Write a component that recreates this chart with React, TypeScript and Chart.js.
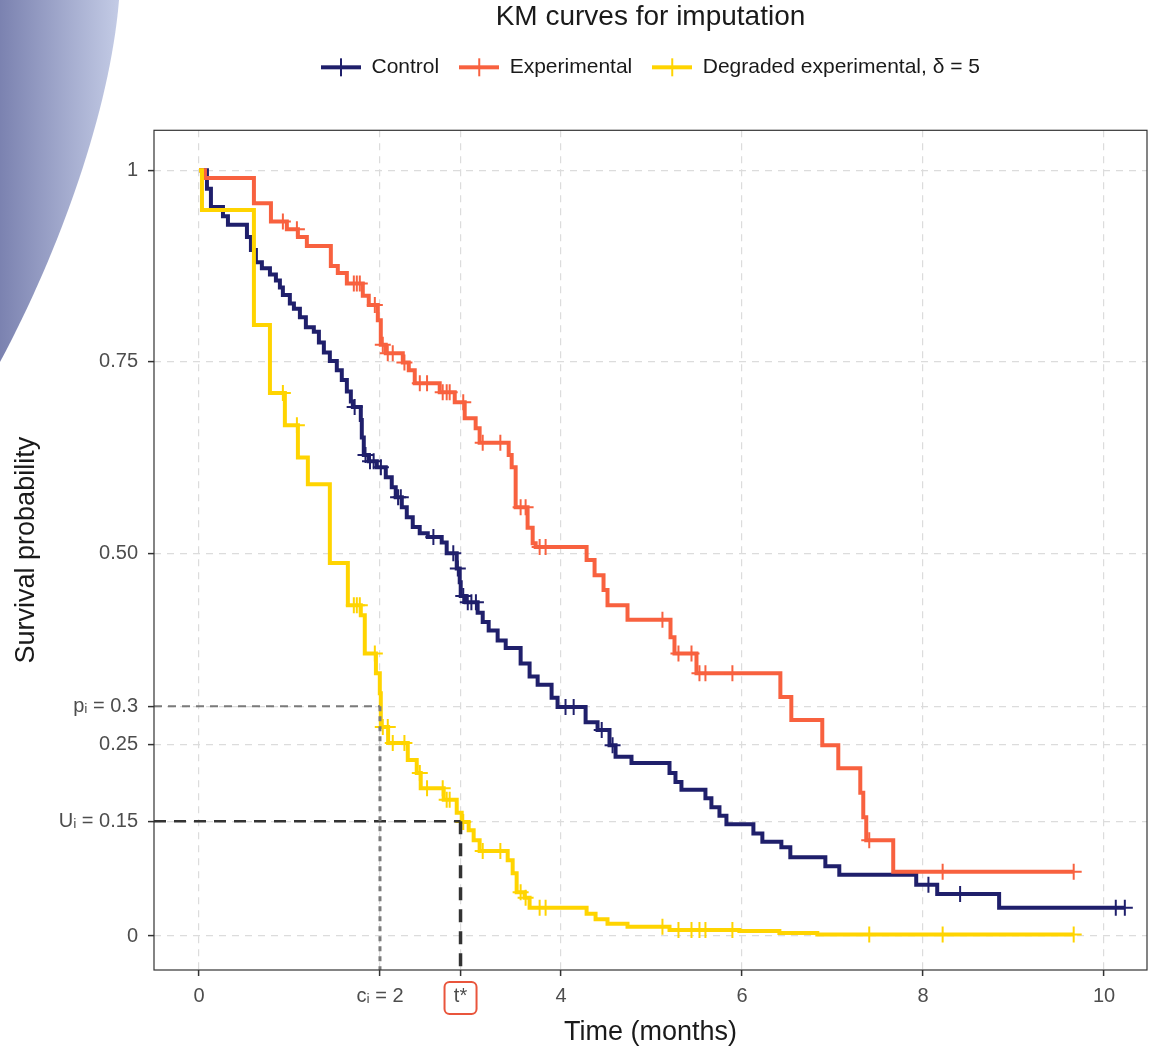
import React, { useEffect, useRef } from 'react';
import { Chart, registerables } from 'chart.js';

Chart.register(...registerables);

const FONT = "'Liberation Sans', Arial, Helvetica, sans-serif";

const chartTitle = 'KM curves for imputation';
const xAxisTitle = 'Time (months)';
const yAxisTitle = 'Survival probability';
const seriesNames = ['Control', 'Experimental', 'Degraded experimental, δ = 5'];
const seriesColors = ['#1f1f6b', '#f8613f', '#ffd400'];

const cI = 2;
const tStar = 2.89;
const pI = 0.3;
const uI = 0.15;

const xTickValues = [0, cI, tStar, 4, 6, 8, 10];
const xTickLabels = ['0', 'cᵢ = 2', 't*', '4', '6', '8', '10'];
const yTickValues = [0, uI, 0.25, pI, 0.5, 0.75, 1];
const yTickLabels = ['0', 'Uᵢ = 0.15', '0.25', 'pᵢ = 0.3', '0.50', '0.75', '1'];

const xMin = -0.497;
const xMax = 10.475;
const yMin = -0.0444;
const yMax = 1.0522;

// [time, survival after event]
const controlSteps = [
  [0.088, 0.976], [0.132, 0.952], [0.265, 0.940], [0.320, 0.929], [0.530, 0.913], [0.574, 0.896],
  [0.629, 0.880], [0.695, 0.872], [0.784, 0.864], [0.850, 0.856], [0.894, 0.847], [0.927, 0.837],
  [1.004, 0.826], [1.049, 0.819], [1.115, 0.808], [1.181, 0.795], [1.269, 0.789], [1.325, 0.775],
  [1.380, 0.762], [1.446, 0.751], [1.523, 0.739], [1.578, 0.726], [1.634, 0.711], [1.678, 0.698],
  [1.700, 0.691], [1.788, 0.674], [1.799, 0.651], [1.821, 0.628], [1.876, 0.620], [1.965, 0.612],
  [2.064, 0.599], [2.130, 0.586], [2.174, 0.573], [2.241, 0.560], [2.296, 0.547], [2.362, 0.534],
  [2.439, 0.526], [2.528, 0.521], [2.682, 0.514], [2.737, 0.500], [2.848, 0.480], [2.881, 0.462],
  [2.892, 0.444], [2.947, 0.436], [3.079, 0.422], [3.135, 0.410], [3.201, 0.399], [3.300, 0.386],
  [3.389, 0.376], [3.554, 0.356], [3.653, 0.339], [3.742, 0.328], [3.896, 0.311], [3.962, 0.299],
  [4.272, 0.279], [4.404, 0.269], [4.536, 0.249], [4.603, 0.234], [4.779, 0.226], [5.199, 0.213],
  [5.265, 0.201], [5.331, 0.191], [5.596, 0.180], [5.662, 0.168], [5.751, 0.157], [5.828, 0.146],
  [6.126, 0.134], [6.225, 0.123], [6.435, 0.116], [6.534, 0.103], [6.921, 0.091], [7.075, 0.080],
  [7.925, 0.067], [8.157, 0.055], [8.841, 0.037],
];
const controlCensorTimes = [
  1.72, 1.84, 1.89, 1.93, 2.01, 2.20, 2.23, 2.59, 2.81, 2.86, 2.92, 2.97, 3.01, 3.06,
  4.05, 4.14, 4.45, 4.57, 8.06, 8.41, 10.13, 10.23,
];
const controlEnd = 10.23;

const experimentalSteps = [
  [0.066, 0.990], [0.607, 0.957], [0.795, 0.933], [0.971, 0.923], [1.093, 0.913], [1.192, 0.901],
  [1.457, 0.875], [1.534, 0.866], [1.634, 0.852], [1.810, 0.836], [1.876, 0.824], [1.976, 0.804],
  [2.009, 0.772], [2.064, 0.761], [2.252, 0.749], [2.318, 0.739], [2.384, 0.722], [2.660, 0.710],
  [2.826, 0.697], [2.936, 0.676], [3.057, 0.663], [3.101, 0.644], [3.422, 0.628], [3.455, 0.612],
  [3.499, 0.560], [3.631, 0.533], [3.687, 0.513], [3.720, 0.508], [4.283, 0.491], [4.371, 0.471],
  [4.470, 0.452], [4.514, 0.432], [4.735, 0.413], [5.210, 0.390], [5.254, 0.369], [5.497, 0.343],
  [6.424, 0.312], [6.545, 0.282], [6.887, 0.249], [7.064, 0.219], [7.307, 0.187], [7.340, 0.155],
  [7.373, 0.125], [7.671, 0.084],
];
const degradedSteps = [
  [0.033, 0.948], [0.607, 0.798], [0.784, 0.709], [0.949, 0.667], [1.093, 0.625], [1.203, 0.590],
  [1.446, 0.487], [1.645, 0.432], [1.788, 0.419], [1.832, 0.369], [1.955, 0.343], [1.998, 0.317],
  [2.009, 0.273], [2.090, 0.252], [2.307, 0.230], [2.406, 0.213], [2.450, 0.193], [2.704, 0.178],
  [2.848, 0.161], [2.903, 0.149], [2.980, 0.138], [3.035, 0.125], [3.101, 0.111], [3.411, 0.099],
  [3.466, 0.082], [3.510, 0.057], [3.598, 0.050], [3.653, 0.037], [4.283, 0.029], [4.382, 0.022],
  [4.514, 0.016], [4.735, 0.012], [5.199, 0.008], [5.971, 0.0065], [6.413, 0.004], [6.832, 0.002],
];
// censoring times shared by the experimental arm and its degraded version
const experimentalCensorTimes = [
  0.927, 1.082, 1.711, 1.744, 1.777, 1.943, 2.031, 2.086, 2.141, 2.27, 2.44, 2.52, 2.693, 2.737,
  2.770, 2.92, 3.135, 3.33, 3.554, 3.609, 3.764, 3.830, 5.121, 5.298, 5.442, 5.530, 5.596, 5.894,
  7.406, 8.217, 9.665,
];
const experimentalEnd = 9.665;

function survAt(steps: number[][], t: number) {
  let s = 1;
  for (const [time, surv] of steps) {
    if (time <= t) s = surv;
  }
  return s;
}

function stepData(steps: number[][], end: number) {
  const pts = [{ x: 0, y: 1 }];
  for (const [t, s] of steps) pts.push({ x: t, y: s });
  pts.push({ x: end, y: steps[steps.length - 1][1] });
  return pts;
}

function censorData(steps: number[][], times: number[]) {
  return times.map((t) => ({ x: t, y: survAt(steps, t) }));
}

function makeKey(color: string) {
  const c = document.createElement('canvas');
  c.width = 40;
  c.height = 20;
  const g = c.getContext('2d')!;
  g.strokeStyle = color;
  g.lineWidth = 4;
  g.beginPath();
  g.moveTo(0, 10);
  g.lineTo(40, 10);
  g.stroke();
  g.lineWidth = 2;
  g.beginPath();
  g.moveTo(20, 1);
  g.lineTo(20, 19);
  g.stroke();
  return c;
}

const decorPlugin = {
  id: 'decor',
  beforeDraw(chart: any) {
    const ctx = chart.ctx;
    ctx.save();
    const grad = ctx.createLinearGradient(0, 0, 120, 0);
    grad.addColorStop(0, '#7b82b0');
    grad.addColorStop(1, '#c4cce6');
    ctx.fillStyle = grad;
    ctx.beginPath();
    ctx.moveTo(0, 0);
    ctx.lineTo(119, 0);
    ctx.bezierCurveTo(110, 110, 60, 250, 0, 362);
    ctx.closePath();
    ctx.fill();
    ctx.restore();
  },
  afterDraw(chart: any) {
    const { ctx, chartArea } = chart;
    ctx.save();
    ctx.strokeStyle = '#333333';
    ctx.lineWidth = 1.2;
    ctx.strokeRect(chartArea.left, chartArea.top, chartArea.right - chartArea.left, chartArea.bottom - chartArea.top);
    const xs = chart.scales.x;
    const px = xs.getPixelForValue(tStar);
    ctx.strokeStyle = '#e9553c';
    ctx.lineWidth = 2;
    ctx.beginPath();
    ctx.roundRect(px - 16, xs.top + 12, 32, 32, 5);
    ctx.stroke();
    ctx.restore();
  },
};

export default function App() {
  const ref = useRef<HTMLCanvasElement>(null);

  useEffect(() => {
    const keys = seriesColors.map((c) => makeKey(c));
    const lineDs = (i: number, steps: number[][], end: number, order: number) => ({
      type: 'line',
      label: seriesNames[i],
      data: stepData(steps, end),
      borderColor: seriesColors[i],
      backgroundColor: seriesColors[i],
      borderWidth: 4,
      stepped: 'before',
      pointRadius: 0,
      fill: false,
      borderJoinStyle: 'miter',
      xAxisID: 'x',
      yAxisID: 'y',
      order,
    });
    const censorDs = (i: number, steps: number[][], times: number[], order: number) => ({
      type: 'scatter',
      label: seriesNames[i] + ' (censored)',
      data: censorData(steps, times),
      showLine: false,
      pointStyle: 'cross',
      pointRadius: 8,
      pointBorderWidth: 2,
      pointBorderColor: seriesColors[i],
      pointBackgroundColor: seriesColors[i],
      xAxisID: 'x',
      yAxisID: 'y',
      order,
    });
    const refDs = (data: any[], color: string, width: number, dash: number[]) => ({
      type: 'line',
      label: 'ref',
      data,
      borderColor: color,
      borderWidth: width,
      borderDash: dash,
      pointRadius: 0,
      fill: false,
      xAxisID: 'x',
      yAxisID: 'y',
      order: 1,
    });

    const chart = new Chart(ref.current!, {
      type: 'line',
      data: {
        datasets: [
          lineDs(0, controlSteps, controlEnd, 10),
          lineDs(1, experimentalSteps, experimentalEnd, 9),
          lineDs(2, degradedSteps, experimentalEnd, 8),
          censorDs(0, controlSteps, controlCensorTimes, 7),
          censorDs(1, experimentalSteps, experimentalCensorTimes, 6),
          censorDs(2, degradedSteps, experimentalCensorTimes, 5),
          refDs([{ x: xMin, y: pI }, { x: cI, y: pI }], '#7a7a7a', 2, [8, 6]),
          refDs([{ x: cI, y: pI }, { x: cI, y: yMin }], '#7a7a7a', 3, [5, 5]),
          refDs([{ x: xMin, y: uI }, { x: tStar, y: uI }], '#333333', 2.5, [12, 8]),
          refDs([{ x: tStar, y: uI }, { x: tStar, y: yMin }], '#333333', 3.5, [13, 9]),
        ] as any,
      },
      options: {
        responsive: false,
        animation: false,
        events: [],
        layout: { padding: { left: 0, right: 9, top: 0, bottom: 0 } },
        plugins: {
          tooltip: { enabled: false },
          title: {
            display: true,
            text: chartTitle,
            fullSize: false,
            color: '#1a1a1a',
            font: { family: FONT, size: 28, weight: 'normal' },
            padding: { top: 0.5, bottom: 2.7 },
          },
          legend: {
            display: true,
            position: 'top',
            fullSize: false,
            labels: {
              usePointStyle: true,
              pointStyleWidth: 40,
              padding: 20,
              color: '#1a1a1a',
              font: { family: FONT, size: 21 },
              generateLabels: () =>
                seriesNames.map((name, i) => ({
                  text: name,
                  fillStyle: seriesColors[i],
                  strokeStyle: seriesColors[i],
                  lineWidth: 0,
                  pointStyle: keys[i],
                  hidden: false,
                  datasetIndex: i,
                  fontColor: '#1a1a1a',
                })),
            },
          },
        },
        scales: {
          x: {
            type: 'linear',
            position: 'bottom',
            min: xMin,
            max: xMax,
            afterBuildTicks: (s: any) => {
              s.ticks = xTickValues.map((v) => ({ value: v }));
            },
            afterFit: (s: any) => {
              s.height = 81;
            },
            ticks: {
              autoSkip: false,
              maxRotation: 0,
              minRotation: 0,
              padding: 8,
              color: '#4d4d4d',
              font: { family: FONT, size: 20 },
              callback: (_v: any, i: number) => xTickLabels[i],
            },
            grid: {
              color: '#dcdcdc',
              lineWidth: 1.2,
              tickLength: 6,
              tickColor: '#333333',
              tickWidth: 1.5,
            },
            border: { display: false, dash: [7, 6] },
            title: {
              display: true,
              text: xAxisTitle,
              color: '#1a1a1a',
              font: { family: FONT, size: 27 },
              padding: { top: 0, bottom: 2 },
            },
          },
          xTop: {
            type: 'linear',
            position: 'top',
            display: true,
            grid: { display: false, drawTicks: false },
            border: { display: false },
            ticks: { display: false },
            afterFit: (s: any) => {
              s.height = 42.5;
            },
          },
          y: {
            type: 'linear',
            position: 'left',
            min: yMin,
            max: yMax,
            afterBuildTicks: (s: any) => {
              s.ticks = yTickValues.map((v) => ({ value: v }));
            },
            afterFit: (s: any) => {
              s.width = 154;
            },
            ticks: {
              autoSkip: false,
              padding: 10,
              color: '#4d4d4d',
              font: { family: FONT, size: 20 },
              callback: (_v: any, i: number) => yTickLabels[i],
            },
            grid: {
              color: '#dcdcdc',
              lineWidth: 1.2,
              tickLength: 6,
              tickColor: '#333333',
              tickWidth: 1.5,
            },
            border: { display: false, dash: [7, 6] },
            title: {
              display: true,
              text: yAxisTitle,
              color: '#1a1a1a',
              font: { family: FONT, size: 27 },
              padding: { top: 10.8, bottom: 0 },
            },
          },
        },
      } as any,
      plugins: [decorPlugin],
    } as any);
    return () => chart.destroy();
  }, []);

  return (
    <div style={{ position: 'absolute', left: 0, top: 0, width: 1157, height: 1051, background: '#ffffff', overflow: 'hidden' }}>
      <canvas ref={ref} width={1157} height={1051} style={{ display: 'block', width: 1157, height: 1051 }} />
    </div>
  );
}
